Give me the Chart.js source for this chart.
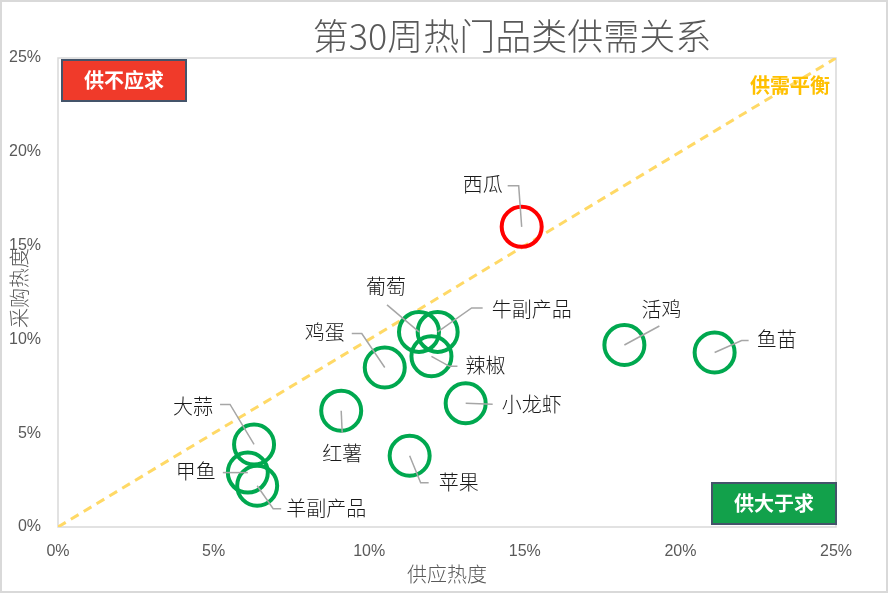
<!DOCTYPE html>
<html>
<head>
<meta charset="utf-8">
<script src="https://cdn.jsdelivr.net/npm/chart.js@4"></script>
<style>
  html, body { margin: 0; padding: 0; background: #fff; }
  #wrap { width: 888px; height: 593px; position: relative; }
</style>
</head>
<body>
<div id="wrap"><canvas id="supplyDemand"></canvas></div>
<script>
// 第30周 data (percent values)
const categories = ['西瓜', '葡萄', '牛副产品', '辣椒', '鸡蛋', '小龙虾', '红薯', '苹果', '大蒜', '甲鱼', '羊副产品', '活鸡', '鱼苗']
const supplyHeat = [14.9, 11.6, 12.2, 12.0, 10.5, 13.1, 9.1, 11.3, 6.3, 6.1, 6.4, 18.2, 21.1]
const purchaseHeat = [16.0, 10.4, 10.4, 9.1, 8.5, 6.6, 6.2, 3.8, 4.4, 2.9, 2.2, 9.7, 9.3]
const balanceX = [0, 25]
const balanceY = [0, 25]
const tickValues = [0, 5, 10, 15, 20, 25]

const titleText = '第30周热门品类供需关系'
const xTitle = '供应热度'
const yTitle = '采购热度'

// label placement, pixels relative to the point: [text dx, dy, elbow dx, dy, end dx, dy]
const labelPlace = {
    '西瓜': [-39, -42, -3, -41, -14, -41],
    '葡萄': [-33, -45, -32, -27, -32, -27],
    '牛副产品': [94, -22, 34, -24, 45, -24],
    '辣椒': [54, 9, 18, 10, 26, 10],
    '鸡蛋': [-60, -35, -23, -34, -33, -34],
    '小龙虾': [66, 1, 27, 1, 27, 1],
    '红薯': [1, 43, 1, 22, 1, 22],
    '苹果': [49, 27, 11, 27, 19, 27],
    '大蒜': [-61, -38, -24, -40, -34, -40],
    '甲鱼': [-52, -1, -25, 0, -25, 0],
    '羊副产品': [69, 23, 16, 23, 24, 23],
    '活鸡': [37, -36, 35, -19, 35, -19],
    '鱼苗': [62, -13, 27, -12, 34, -12]
}

const cjk = '"Noto Sans CJK SC", "Noto Sans", sans-serif'

const decorPlugin = {
    id: 'decor',
    beforeDraw(chart) {
        const ctx = chart.ctx
        const a = chart.chartArea
        ctx.save()
        // frame of the picture
        ctx.strokeStyle = '#D9D9D9'
        ctx.lineWidth = 2
        ctx.strokeRect(1, 1, chart.width - 2, chart.height - 2)
        // plot area border
        ctx.lineWidth = 1.5
        ctx.strokeRect(a.left, a.top, a.right - a.left, a.bottom - a.top)
        ctx.restore()
    },
    afterDatasetsDraw(chart) {
        const ctx = chart.ctx
        const a = chart.chartArea
        const pts = chart.getDatasetMeta(1).data
        ctx.save()

        // leader lines and labels
        ctx.strokeStyle = '#A6A6A6'
        ctx.lineWidth = 1.5
        ctx.font = '300 20px ' + cjk
        ctx.fillStyle = '#1A1A1A'
        ctx.textAlign = 'center'
        ctx.textBaseline = 'middle'
        categories.forEach((name, i) => {
            const p = pts[i]
            const o = labelPlace[name]
            ctx.beginPath()
            ctx.moveTo(p.x, p.y)
            ctx.lineTo(p.x + o[2], p.y + o[3])
            ctx.lineTo(p.x + o[4], p.y + o[5])
            ctx.stroke()
            ctx.fillText(name, p.x + o[0], p.y + o[1])
        })

        // title
        ctx.fillStyle = '#595959'
        ctx.font = '300 36px ' + cjk
        ctx.fillText(titleText, 512, 36)

        // axis titles
        ctx.font = '300 20px ' + cjk
        ctx.fillText(xTitle, (a.left + a.right) / 2, 574)
        ctx.save()
        ctx.translate(19, 288)
        ctx.rotate(-Math.PI / 2)
        ctx.fillText(yTitle, 0, 0)
        ctx.restore()

        // quadrant boxes
        const box = (x, y, w, h, fill, text) => {
            ctx.fillStyle = fill
            ctx.fillRect(x, y, w, h)
            ctx.strokeStyle = '#44546A'
            ctx.lineWidth = 2
            ctx.strokeRect(x, y, w, h)
            ctx.fillStyle = '#FFFFFF'
            ctx.font = 'bold 20px ' + cjk
            ctx.fillText(text, x + w / 2, y + h / 2)
        }
        box(a.left + 4, a.top + 2, 124, 41, '#F03A2A', '供不应求')
        box(a.right - 124, a.bottom - 44, 124, 41, '#12A14B', '供大于求')

        ctx.fillStyle = '#FFC000'
        ctx.font = 'bold 20px ' + cjk
        ctx.fillText('供需平衡', a.right - 46, a.top + 27)
        ctx.restore()
    }
}

const canvas = document.getElementById('supplyDemand').getContext('2d')
const chart = new Chart(canvas, {
    type: 'scatter',
    data: {
        datasets: [{
            type: 'line',
            label: '供需平衡',
            data: balanceX.map((x, i) => ({ x: x, y: balanceY[i] })),
            borderColor: '#FFD966',
            borderWidth: 3,
            borderDash: [9, 6],
            pointRadius: 0,
            fill: false,
            order: 2
        }, {
            label: '品类',
            data: supplyHeat.map((x, i) => ({ x: x, y: purchaseHeat[i] })),
            pointRadius: 20,
            pointHoverRadius: 20,
            pointBorderWidth: 4,
            backgroundColor: 'rgba(0,0,0,0)',
            borderColor: categories.map(c => c === '西瓜' ? '#FF0000' : '#00A84F'),
            order: 1
        }]
    },
    options: {
        responsive: true,
        maintainAspectRatio: false,
        animation: false,
        layout: { padding: { top: 58, right: 52, left: 0, bottom: 0 } },
        plugins: {
            legend: { display: false },
            title: { display: false },
            tooltip: { enabled: false }
        },
        scales: {
            x: {
                type: 'linear',
                min: 0,
                max: 25,
                afterBuildTicks: s => { s.ticks = tickValues.map(v => ({ value: v })) },
                afterFit: s => { s.height = 66 },
                grid: { display: false, drawTicks: false },
                border: { display: false },
                ticks: {
                    padding: 15,
                    color: '#595959',
                    font: { size: 16, family: '"Liberation Sans", sans-serif' },
                    callback: v => v + '%'
                }
            },
            y: {
                type: 'linear',
                min: 0,
                max: 25,
                afterBuildTicks: s => { s.ticks = tickValues.map(v => ({ value: v })) },
                afterFit: s => { s.width = 58 },
                grid: { display: false, drawTicks: false },
                border: { display: false },
                ticks: {
                    padding: 17,
                    color: '#595959',
                    font: { size: 16, family: '"Liberation Sans", sans-serif' },
                    callback: v => v + '%'
                }
            }
        }
    },
    plugins: [decorPlugin]
})
</script>
</body>
</html>
